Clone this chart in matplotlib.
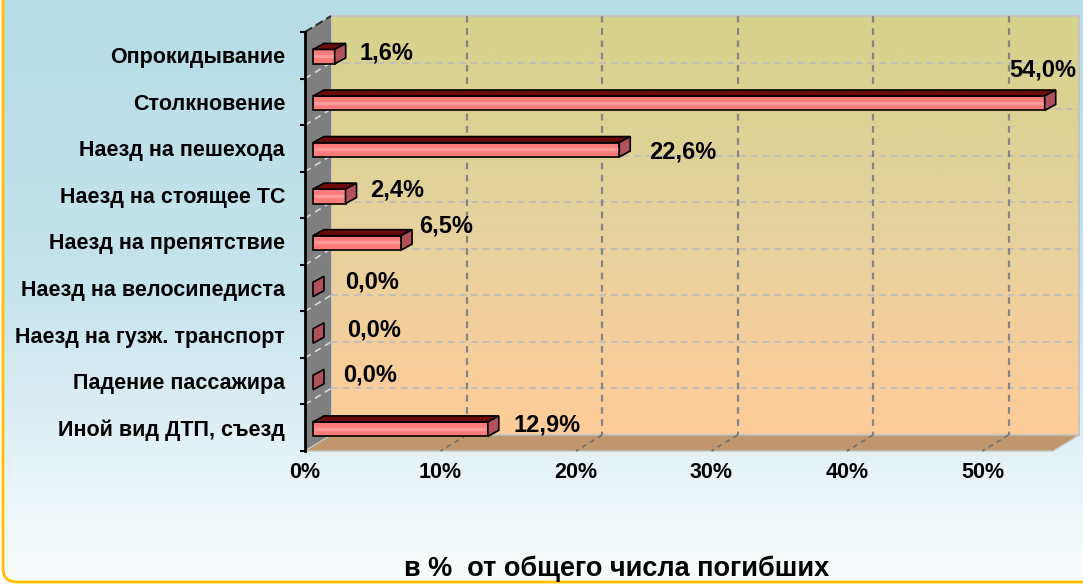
import numpy as np
import matplotlib
matplotlib.use('Agg')
import matplotlib.pyplot as plt
from matplotlib.patches import Polygon, FancyBboxPatch
from matplotlib.colors import LinearSegmentedColormap
from matplotlib.ticker import FixedLocator

# ---------------- data ----------------
categories = ['Опрокидывание', 'Столкновение', 'Наезд на пешехода',
              'Наезд на стоящее ТС', 'Наезд на препятствие',
              'Наезд на велосипедиста', 'Наезд на гузж. транспорт',
              'Падение пассажира', 'Иной вид ДТП, съезд']
values = [1.6, 54.0, 22.6, 2.4, 6.5, 0.0, 0.0, 0.0, 12.9]
value_labels = ['1,6%', '54,0%', '22,6%', '2,4%', '6,5%',
                '0,0%', '0,0%', '0,0%', '12,9%']
xticks = [0, 10, 20, 30, 40, 50]
xtick_labels = ['0%', '10%', '20%', '30%', '40%', '50%']
xlabel = 'в %  от общего числа погибших'

# ---------------- layout / style ----------------
plt.rcParams['font.family'] = ['Liberation Sans', 'DejaVu Sans']
W, H = 1083, 584
PX_PER_PCT = 13.55
XMAX = 55.2
N = len(categories)
AX_LEFT, AX_TOP, AX_BOTTOM = 305, 32, 451
PX_PER_CAT = (AX_BOTTOM - AX_TOP) / N
DX = 26 / PX_PER_PCT          # depth offset (x, data units)
DY = 16 / PX_PER_CAT          # depth offset (y, data units)
BAR_X0 = 8 / PX_PER_PCT       # bar front-face start
BAR_C = 0.03                  # bar front-face centre offset
BAR_HH = 0.155                # half height of bar front face
BDX = 11 / PX_PER_PCT         # bar top/side skew
BDY = 6 / PX_PER_CAT
# label offsets in pixels (dx from bar end, dy from category centre)
label_offsets = [(14, -2), (-46, -32), (19, 4), (14, -5), (7, -15),
                 (21, -6), (23, -5), (19, -6), (15, -3)]

fig = plt.figure(figsize=(W / 100, H / 100), dpi=100)
fig.patch.set_facecolor('white')

# background panel with gradient and yellow rounded border
bg = fig.add_axes([0, 0, 1, 1])
bg.set_xlim(0, W)
bg.set_ylim(H, 0)
bg.axis('off')
frame = FancyBboxPatch((3, -60), W + 100, 582 + 60, boxstyle='round,pad=0,rounding_size=14',
                       facecolor='none', edgecolor='#ffc000', lw=2, zorder=2)
bg.add_patch(frame)
grad = np.linspace(0, 1, 256).reshape(-1, 1)
cmap_bg = LinearSegmentedColormap.from_list('bg', ['#b6dce7', '#c6e4ed', '#fbfdfd'])
im = bg.imshow(grad, extent=[0, W, H, 0], cmap=cmap_bg, aspect='auto', zorder=1)
im.set_clip_path(frame)

# main axes = front plane of the 3D box
ax = fig.add_axes([AX_LEFT / W, (H - AX_BOTTOM) / H,
                   XMAX * PX_PER_PCT / W, (AX_BOTTOM - AX_TOP) / H])
ax.set_facecolor('none')
ax.set_xlim(0, XMAX)
ax.set_ylim(N - 0.5, -0.5)
for s in ['top', 'right', 'bottom']:
    ax.spines[s].set_visible(False)
ax.spines['left'].set_linewidth(2)
ax.spines['left'].set_zorder(10)

top, bot = -0.5, N - 0.5
# back wall with gradient
wall_cmap = LinearSegmentedColormap.from_list('wall', ['#d5d28b', '#e6d29d', '#ffcc99'])
wim = ax.imshow(grad, extent=[DX, XMAX + DX, bot - DY, top - DY], cmap=wall_cmap,
                aspect='auto', zorder=0, interpolation='bilinear')
wim.set_clip_on(False)
ax.add_patch(Polygon([(DX, top - DY), (XMAX + DX, top - DY), (XMAX + DX, bot - DY), (DX, bot - DY)],
                     closed=True, facecolor='none', edgecolor='#c4c4c4', lw=1.5, zorder=1, clip_on=False))
# left wall
ax.add_patch(Polygon([(0, top), (DX, top - DY), (DX, bot - DY), (0, bot)], closed=True,
                     facecolor='#7f7f7f', edgecolor='none', zorder=1, clip_on=False))
ax.plot([0, DX], [top, top - DY], color='#303030', lw=1.5, ls=(0, (4, 2)), zorder=2, clip_on=False)
# floor
ax.add_patch(Polygon([(0, bot), (XMAX, bot), (XMAX + DX, bot - DY), (DX, bot - DY)], closed=True,
                     facecolor='#c0966c', edgecolor='#c4c4c4', lw=1, zorder=1, clip_on=False))

# grid lines
for b in np.arange(0.5, N - 0.5, 1.0):
    ax.plot([DX, XMAX + DX], [b - DY, b - DY], color='#bcbcbc', lw=1.2, ls=(0, (4, 3)),
            zorder=2, clip_on=False)
    ax.plot([0, DX], [b, b - DY], color='#d8d8d8', lw=1.2, ls=(0, (4, 3)), zorder=2, clip_on=False)
for x in xticks[1:]:
    ax.plot([x + DX, x + DX], [top - DY, bot - DY], color='#858585', lw=1.6, ls=(0, (3, 2.5)),
            zorder=2, clip_on=False)
    ax.plot([x + DX, x], [bot - DY, bot], color='#707070', lw=1.2, ls=(0, (3, 2.5)),
            zorder=2, clip_on=False)

# bars
for i, v in enumerate(values):
    y0 = i + BAR_C - BAR_HH
    y1 = i + BAR_C + BAR_HH
    x0 = BAR_X0
    x1 = BAR_X0 + v
    front = [(x0, y0), (x1, y0), (x1, y1), (x0, y1)]
    topf = [(x0, y0), (x0 + BDX, y0 - BDY), (x1 + BDX, y0 - BDY), (x1, y0)]
    side = [(x1, y0), (x1 + BDX, y0 - BDY), (x1 + BDX, y1 - BDY), (x1, y1)]
    if v > 0:
        ax.add_patch(Polygon(front, closed=True, facecolor='#fb7b7b', edgecolor='black', lw=1.2,
                             zorder=5, clip_on=False))
        ax.add_patch(Polygon(topf, closed=True, facecolor='#6a0c0c', edgecolor='black', lw=1.2,
                             zorder=5, clip_on=False))
        ax.plot([x0 + 0.05, x1 - 0.05], [i + BAR_C - 0.01, i + BAR_C - 0.01], color='#ff9a9a',
                lw=2.5, zorder=5.5, solid_capstyle='butt', clip_on=False)
    ax.add_patch(Polygon(side, closed=True, facecolor='#b0505a', edgecolor='black', lw=1.2,
                         zorder=6, clip_on=False))
    dxp, dyp = label_offsets[i]
    ax.annotate(value_labels[i], xy=(x1 + BDX, i), xytext=(dxp * 0.72, -dyp * 0.72),
                textcoords='offset points', ha='left', va='center', fontsize=17,
                fontweight='bold', color='black', zorder=8, annotation_clip=False)

# axes ticks and labels
ax.set_yticks(range(N))
ax.set_yticklabels(categories, fontsize=15.5, fontweight='bold')
ax.tick_params(axis='y', which='major', length=0, pad=14.4)
ax.yaxis.set_minor_locator(FixedLocator(np.arange(-0.5, N, 1.0)))
ax.tick_params(axis='y', which='minor', length=3.6, width=1.5, direction='out', color='black')
ax.set_xticks(xticks)
ax.set_xticklabels(xtick_labels, fontsize=15.5, fontweight='bold')
ax.tick_params(axis='x', length=0, pad=8)

fig.text(617 / W, 1 - 569 / H, xlabel, ha='center', va='center', fontsize=19.5, fontweight='bold')

fig.savefig('out.png', dpi=100)
